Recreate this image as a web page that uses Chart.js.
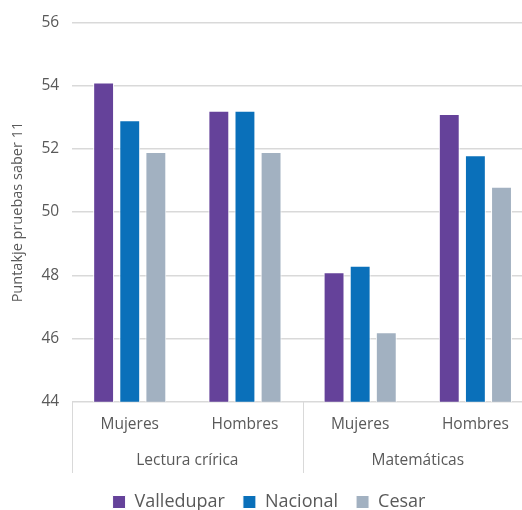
<!DOCTYPE html>
<html>
<head>
<meta charset="utf-8">
<script src="https://cdn.jsdelivr.net/npm/chart.js@4.4.1/dist/chart.umd.min.js"></script>
<style>
  body { margin: 0; background: #fff; }
  #wrap { width: 522px; height: 510px; overflow: hidden; }
</style>
</head>
<body>
<div id="wrap"><canvas id="chart" width="536" height="510"></canvas></div>
<script>
// Data
const subGroups = ['Mujeres', 'Hombres', 'Mujeres', 'Hombres'];
const mainGroups = ['Lectura crírica', 'Matemáticas'];
const valledupar = [54.1, 53.2, 48.1, 53.1];
const nacional = [52.9, 53.2, 48.3, 51.8];
const cesar = [51.9, 51.9, 46.2, 50.8];
const yTicks = [44, 46, 48, 50, 52, 54, 56];

const textColor = '#595959';
const gridColor = '#d9d9d9';

// draw the separators of the two-level category axis
const groupLines = {
    id: 'groupLines',
    afterDraw(chart) {
        const x = chart.scales.x;
        const x2 = chart.scales.x2;
        const ctx = chart.ctx;
        const mid = (x.getPixelForTick(1) + x.getPixelForTick(2)) / 2;
        const top = chart.chartArea.bottom;
        const bottom = x2.bottom - 2;
        ctx.save();
        ctx.strokeStyle = gridColor;
        ctx.lineWidth = 1;
        [x.left, mid, x.right].forEach(px => {
            ctx.beginPath();
            ctx.moveTo(Math.round(px) + 0.5, top);
            ctx.lineTo(Math.round(px) + 0.5, bottom);
            ctx.stroke();
        });
        ctx.restore();
    }
};

const ctx = document.getElementById('chart').getContext('2d');
new Chart(ctx, {
    type: 'bar',
    data: {
        labels: subGroups,
        datasets: [
            { label: 'Valledupar', data: valledupar, backgroundColor: '#65429a', borderColor: '#ffffff', borderWidth: 1 },
            { label: 'Nacional', data: nacional, backgroundColor: '#0a70ba', borderColor: '#ffffff', borderWidth: 1 },
            { label: 'Cesar', data: cesar, backgroundColor: '#a2b1c1', borderColor: '#ffffff', borderWidth: 1 }
        ]
    },
    options: {
        responsive: false,
        animation: false,
        layout: { padding: { top: 16, right: 3, left: 5, bottom: -11 } },
        datasets: {
            bar: { categoryPercentage: 0.68, barPercentage: 0.8 }
        },
        scales: {
            x: {
                grid: { display: false, drawTicks: false },
                border: { display: false },
                ticks: { color: textColor, font: { family: 'Open Sans', size: 15.5 }, padding: 13 }
            },
            x2: {
                type: 'category',
                labels: mainGroups,
                position: 'bottom',
                grid: { display: false, drawTicks: false },
                border: { display: false },
                ticks: { color: textColor, font: { family: 'Open Sans', size: 15.5 }, padding: 5 }
            },
            y: {
                min: 44,
                max: 56,
                afterBuildTicks: axis => { axis.ticks = yTicks.map(v => ({ value: v })); },
                grid: { color: gridColor, lineWidth: 1.5, drawTicks: false },
                border: { display: false },
                ticks: { color: textColor, font: { family: 'Open Sans', size: 15.5 }, padding: 13 },
                title: {
                    display: true,
                    text: 'Puntakje pruebas saber 11',
                    color: textColor,
                    font: { family: 'Open Sans', size: 14.5 },
                    padding: { bottom: 2 }
                }
            }
        },
        plugins: {
            legend: {
                position: 'bottom',
                labels: {
                    color: textColor,
                    font: { family: 'Open Sans', size: 18 },
                    boxWidth: 13,
                    boxHeight: 13,
                    padding: 18
                }
            },
            tooltip: { enabled: false }
        }
    },
    plugins: [groupLines]
});
</script>
</body>
</html>
